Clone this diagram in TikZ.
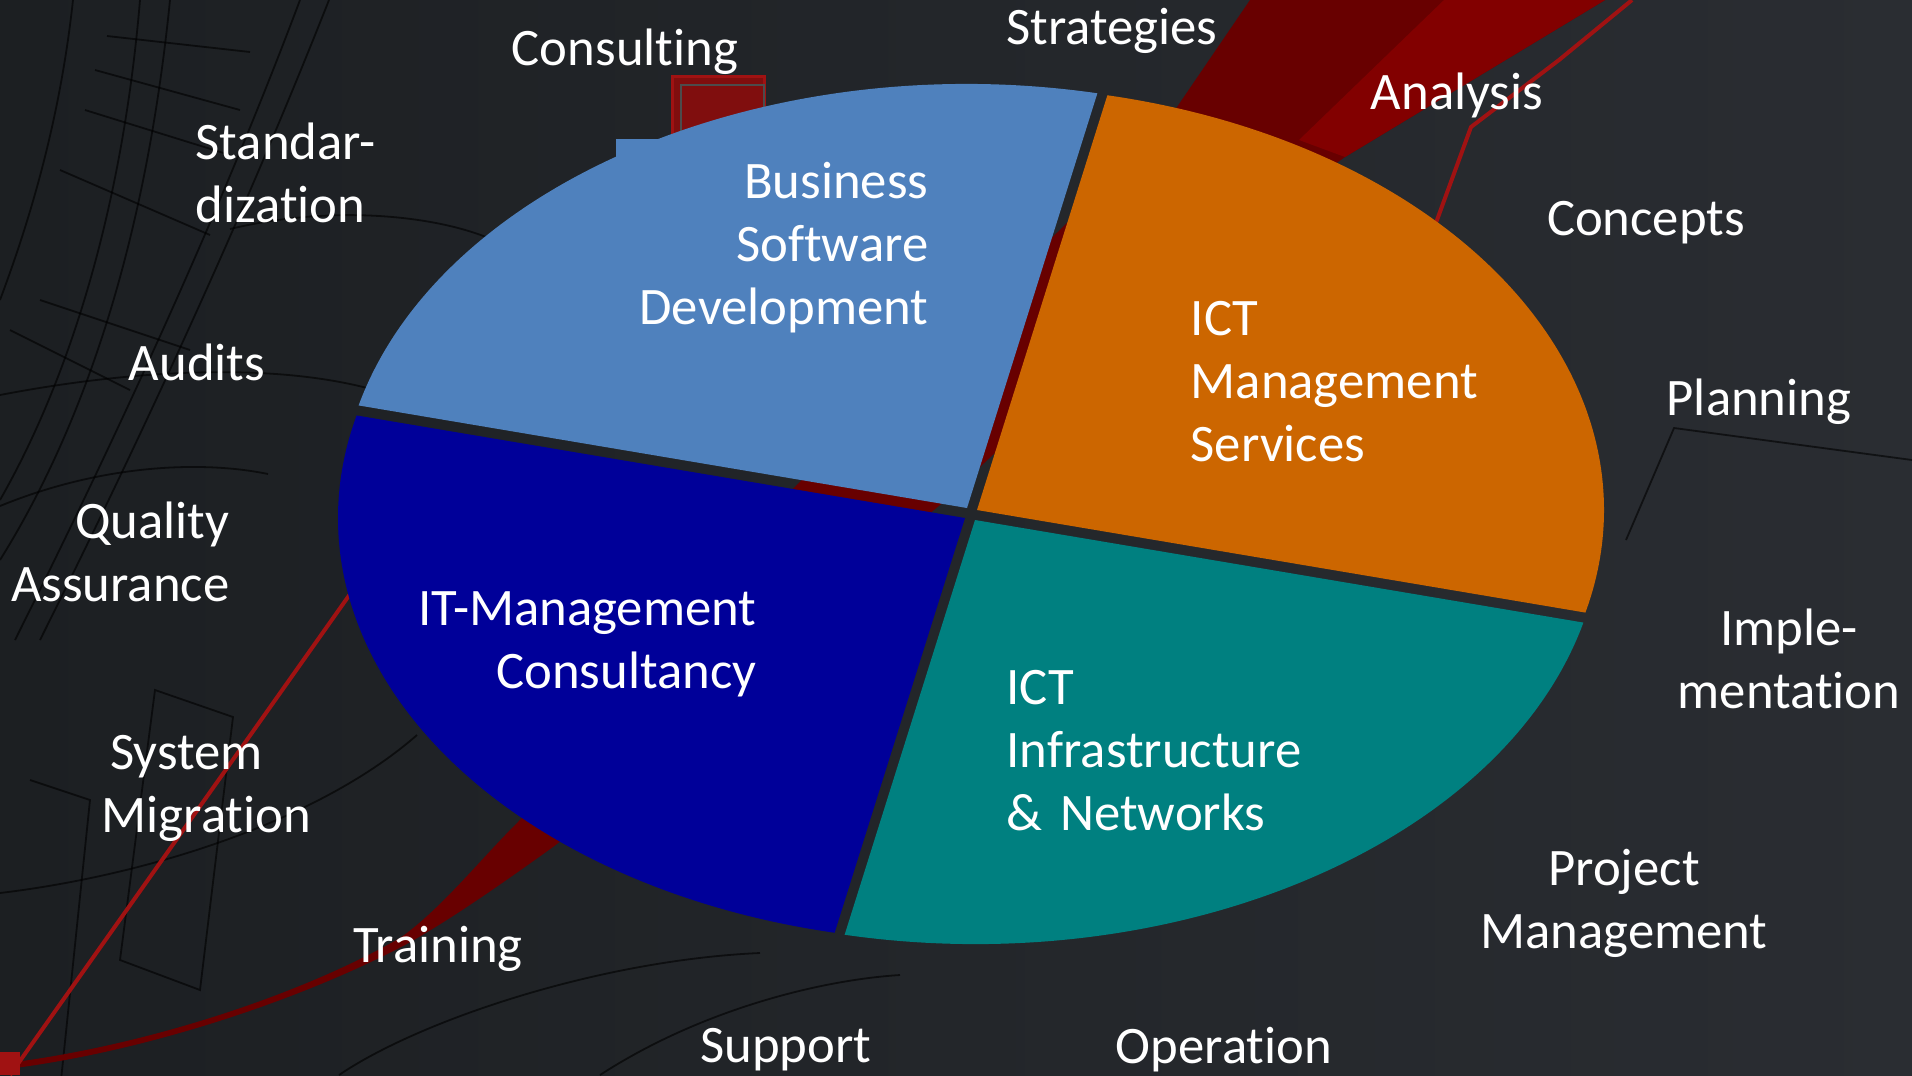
\documentclass[tikz,border=0pt]{standalone}
\usepackage{fontspec}
\setmainfont{Carlito}[RawFeature={-liga;-clig;-calt;-dlig}]
\usetikzlibrary{calc}
\definecolor{bgdark}{HTML}{1C1F22}
\definecolor{bglight}{HTML}{2A2D32}
\definecolor{sectlb}{HTML}{4F81BD}
\definecolor{sector}{HTML}{CC6600}
\definecolor{sectte}{HTML}{008080}
\definecolor{sectdb}{HTML}{000099}
\definecolor{reddark}{HTML}{680000}
\definecolor{redmid}{HTML}{820000}
\definecolor{redline}{HTML}{A01212}
\tikzset{
  lbl/.style={text=white, inner sep=0pt, font=\fontsize{15}{18}\selectfont},
  lblblock/.style={lbl, text width=40mm},
  sketch/.style={black, opacity=0.6, line width=0.18mm},
  redstroke/.style={redline, line width=0.4mm},
}
\begin{document}
\begin{tikzpicture}[x=0.1mm,y=-0.1mm]
% background
\fill[left color=bgdark, right color=bglight] (0,0) rectangle (1912,1075);
\useasboundingbox (0,0) rectangle (1912,1075);

% sketch lines
\draw[sketch] (329,0) .. controls (250,200) and (150,420) .. (40,640);
\draw[sketch] (300,0) .. controls (225,200) and (125,420) .. (15,640);
\draw[sketch] (170,0) .. controls (150,200) and (100,400) .. (0,560);
\draw[sketch] (140,0) .. controls (125,180) and (80,360) .. (0,500);
\draw[sketch] (73,0) .. controls (60,120) and (30,220) .. (0,300);
\draw[sketch] (107,36) -- (250,52);
\draw[sketch] (95,70) -- (240,110);
\draw[sketch] (85,110) -- (230,155);
\draw[sketch] (60,170) -- (210,235);
\draw[sketch] (40,300) -- (190,350);
\draw[sketch] (10,330) -- (130,390);
\draw[sketch] (0,395) .. controls (130,370) and (270,362) .. (371,389);
\draw[sketch] (230,229) .. controls (330,205) and (430,215) .. (486,237);
\draw[sketch] (0,506) .. controls (100,465) and (200,460) .. (268,474);
\draw[sketch] (0,893) .. controls (150,875) and (320,820) .. (417,735);
\draw[sketch] (339,1075) .. controls (420,1020) and (600,960) .. (760,953);
\draw[sketch] (600,1075) .. controls (700,1010) and (820,980) .. (900,975);
\draw[sketch] (155,690) -- (233,717) -- (200,990) -- (120,960) -- cycle;
\draw[sketch] (30,780) -- (90,800) -- (60,1090);
\draw[sketch] (1626,540) -- (1674,428) -- (1912,460);

% red swoosh
\fill[reddark] (1250,0) -- (1605,0) -- (1345,157)
  .. controls (1200,260) and (1050,400) .. (940,505)
  .. controls (800,620) and (640,780) .. (553,847)
  .. controls (500,885) and (450,920) .. (405,945)
  .. controls (300,1000) and (150,1050) .. (15,1068)
  -- (15,1062)
  .. controls (150,1044) and (300,995) .. (400,938)
  .. controls (440,910) and (480,860) .. (515,825)
  .. controls (620,720) and (720,560) .. (790,492)
  .. controls (950,330) and (1100,200) .. (1177,107) -- cycle;
\fill[redmid] (1444,0) -- (1605,0) -- (1345,157) -- (1299,140) -- cycle;
\draw[redstroke] (1632,0) -- (1559,60) -- (1471,127) -- (1437,220) -- (1400,300);
\draw[redstroke] (10,1075) -- (360,580);
\fill[redline] (0,1052) rectangle (20,1075);
\fill[redline!80!black, draw=redline, line width=0.3mm] (672,76) rectangle (764,170);
\draw[black!70, line width=0.15mm] (681,85) rectangle (764,170);

% pie sectors
\coordinate (C) at (971,514);
\fill[sectlb] ($(C)+(-4,-6)$) -- ++(-78:627 and 424)
  arc[start angle=-78, end angle=-166, x radius=627, y radius=424] -- cycle;
\fill[sectlb] (616,139) rectangle (670,175);
\fill[sector] ($(C)+(6,-4)$) -- ++(-78:627 and 424)
  arc[start angle=-78, end angle=14, x radius=627, y radius=424] -- cycle;
\fill[sectte] ($(C)+(4,6)$) -- ++(14:627 and 424)
  arc[start angle=14, end angle=102, x radius=627, y radius=424] -- cycle;
\fill[sectdb] ($(C)+(-6,4)$) -- ++(102:627 and 424)
  arc[start angle=102, end angle=194, x radius=627, y radius=424] -- cycle;

% sector labels
\node[lblblock, align=right, anchor=base east] (bsd) at (929,198) {Business\\Software\\Development};
\node[lblblock, align=left, anchor=base west] (ictms) at (1190,335) {ICT\\Management\\Services};
\node[lblblock, align=right, anchor=base east] (itmc) at (757,625) {IT-Management\\Consultancy};
\node[lblblock, align=left, anchor=base west] (ictin) at (1006,704) {ICT\\Infrastructure\\\& Networks};

% outer labels
\node[lbl, anchor=base] (consulting) at (625,65) {Consulting};
\node[lbl, anchor=base] (strategies) at (1112,44) {Strategies};
\node[lbl, anchor=base] (analysis) at (1457,109) {Analysis};
\node[lbl, anchor=base] (concepts) at (1646,235) {Concepts};
\node[lbl, anchor=base] (planning) at (1759,415) {Planning};
\node[lblblock, align=center, anchor=base] (implement) at (1789,645) {Imple-\\mentation};
\node[lblblock, align=center, anchor=base] (projmgmt) at (1624,885) {Project\\Management};
\node[lbl, anchor=base] (operation) at (1224,1063) {Operation};
\node[lbl, anchor=base] (support) at (786,1062) {Support};
\node[lbl, anchor=base] (training) at (438,962) {Training};
\node[lblblock, align=left, anchor=base west] (migration) at (101,769) {\hspace*{0.85mm}System\\Migration};
\node[lblblock, align=right, anchor=base east] (quality) at (230,538) {Quality\\Assurance};
\node[lbl, anchor=base] (audits) at (197,380) {Audits};
\node[lblblock, align=left, anchor=base west] (standard) at (195,159) {Standar-\\dization};
\end{tikzpicture}
\end{document}
